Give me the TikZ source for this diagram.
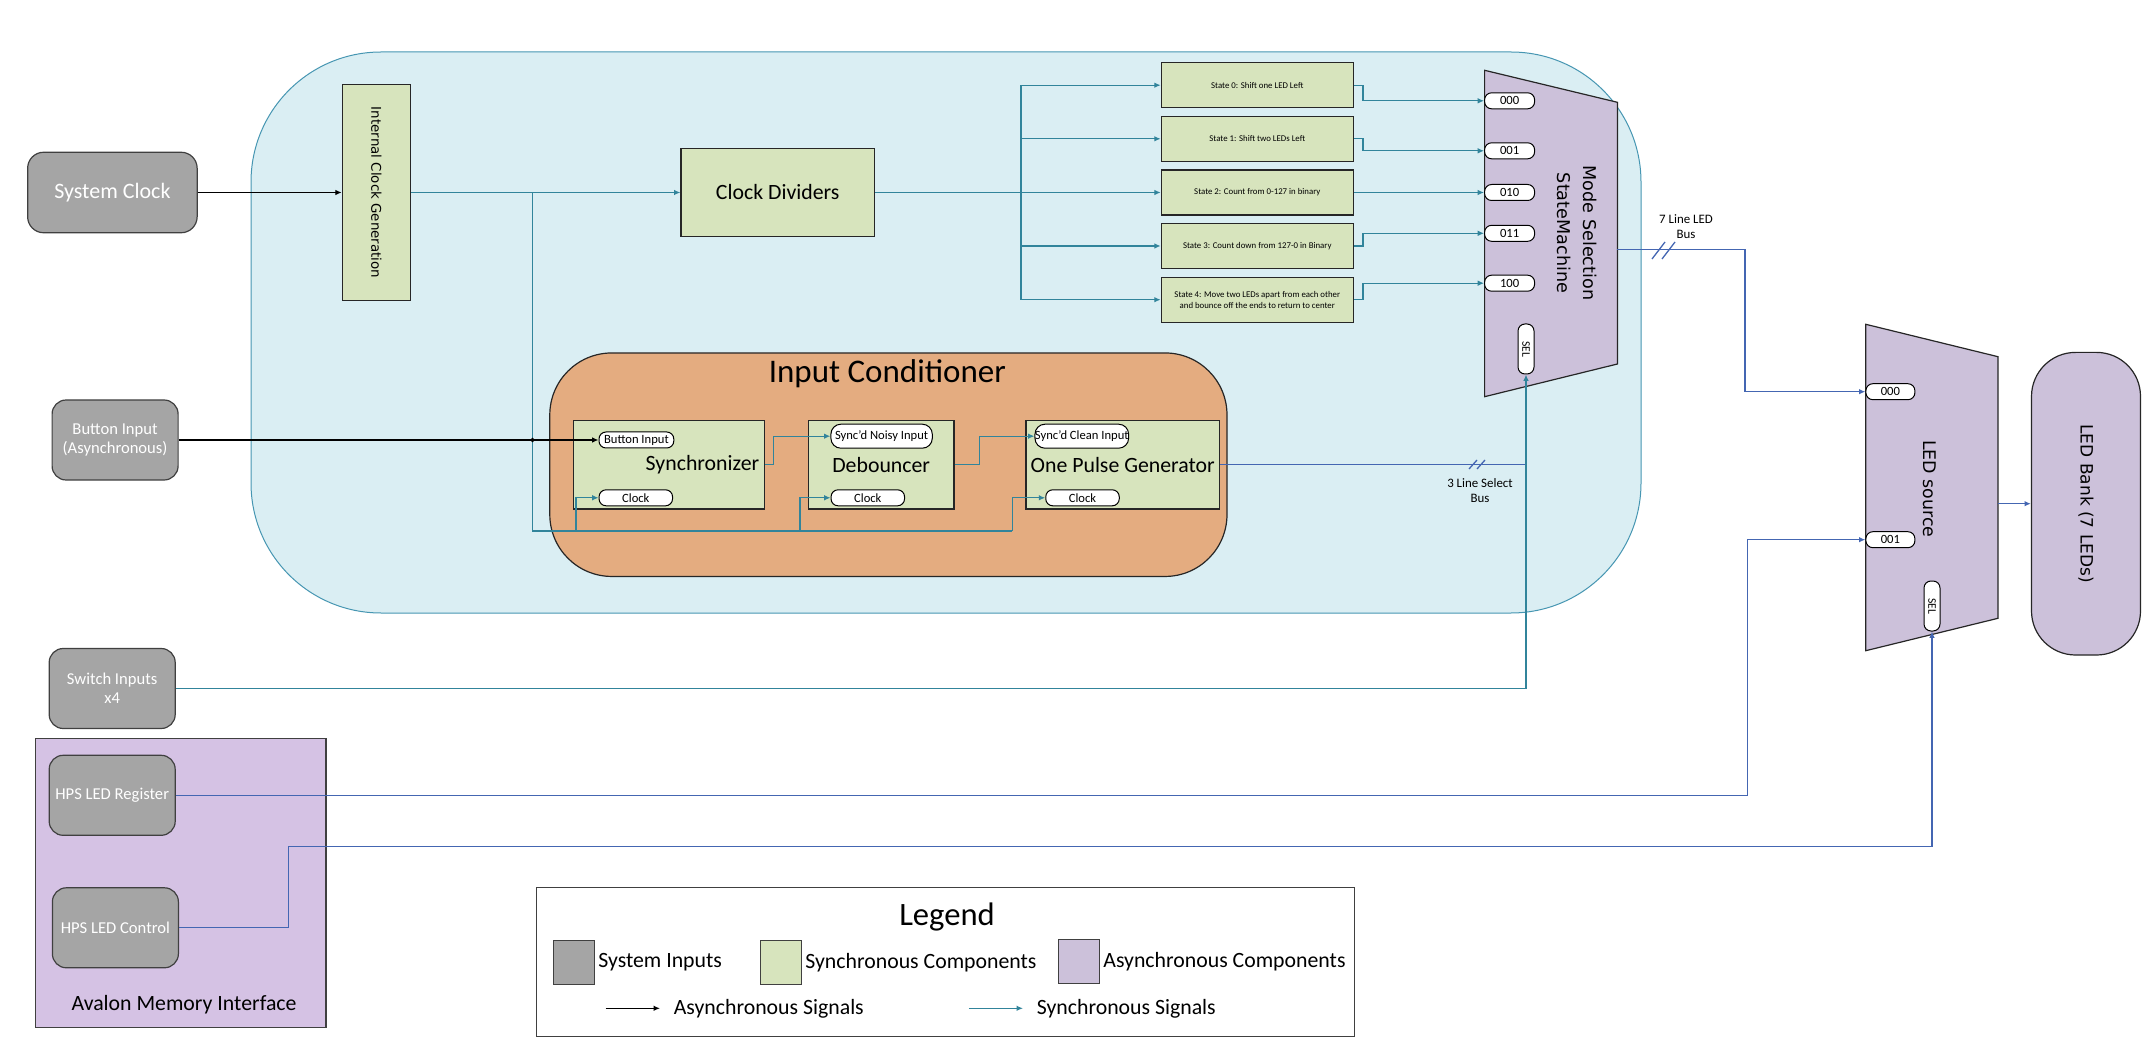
\documentclass[tikz,border=0pt]{standalone}
\usepackage{fontspec}
\usepackage{graphicx}
\setmainfont{Carlito}
\newfontfamily\verdfont{DejaVu Sans}
\usetikzlibrary{arrows.meta,positioning,backgrounds}

\definecolor{syncbg}{RGB}{218,238,243}
\definecolor{syncedge}{RGB}{70,150,178}
\definecolor{synclink}{RGB}{49,132,155}
\definecolor{buslink}{RGB}{68,102,178}
\definecolor{compgreen}{RGB}{215,228,189}
\definecolor{comppurple}{RGB}{204,193,218}
\definecolor{avalonpurple}{RGB}{213,194,228}
\definecolor{condorange}{RGB}{228,172,128}
\definecolor{inputgray}{RGB}{165,165,165}

\tikzset{
    sysin/.style={draw=black!75, fill=inputgray, rounded corners=7pt, text=white, inner sep=0pt, line width=0.6pt,
        minimum width=63pt, minimum height=40pt, align=center, font=\fontsize{8.3}{9.7}\selectfont},
    comp/.style={draw=black!85, fill=compgreen, inner sep=0pt, line width=0.6pt},
    bigtext/.style={font=\fontsize{10.9}{13}\selectfont},
    port/.style={draw=black, fill=white, rounded corners=3.5pt, inner sep=0pt, line width=0.5pt,
        minimum height=8pt, font=\fontsize{6.3}{7}\selectfont},
    statebox/.style={comp, minimum width=96pt, minimum height=22.5pt, align=center, font=\fontsize{4.4}{5.6}\selectfont},
    sync/.style={draw=synclink, line width=0.65pt},
    bus/.style={draw=buslink, line width=0.65pt},
    async/.style={draw=black, line width=0.65pt},
    sigtip/.style={-{Latex[length=3.2pt,width=2.8pt]}},
    buslabel/.style={align=center, font=\fontsize{6.45}{7.5}\selectfont}
}

\begin{document}
\begin{tikzpicture}[x=0.5pt,y=-0.5pt]
            \useasboundingbox (0,0) rectangle (2149,1064);

            \node[draw=syncedge, fill=syncbg, rounded corners=65pt, line width=0.5pt, inner sep=0pt,
                minimum width=695pt, minimum height=280.5pt] (fpga) at (946,332.5) {};
            \node[draw=black!85, fill=condorange, rounded corners=31pt, line width=0.6pt, inner sep=0pt,
                minimum width=338.6pt, minimum height=111.75pt] (incond) at (888.4,464.7) {};
            \node[font=\fontsize{16.5}{18}\selectfont] (incondlbl) at (887.4,373.3) {Input Conditioner};
            \node[draw=black!75, fill=avalonpurple, line width=0.6pt, inner sep=0pt,
                minimum width=145.1pt, minimum height=144.5pt] (avalon) at (180.8,882.8) {};
            \node[bigtext] (avalonlbl) at (184,1005) {Avalon Memory Interface};
            \node[draw=black!75, fill=white, line width=0.6pt, inner sep=0pt,
                minimum width=409.25pt, minimum height=74.7pt] (legend) at (945.5,962) {};

            \node[sysin, rounded corners=8pt, minimum width=84.75pt, minimum height=40.25pt,
                font=\fontsize{11}{13}\selectfont] (sysclk) at (112.4,192.5) {System Clock};
            \node[sysin] (btn) at (115.1,440) {Button Input\\(Asynchronous)};
            \node[sysin] (sw) at (112.2,688.5) {Switch Inputs\\x4};
            \node[sysin] (hreg) at (112.2,795.3) {HPS LED Register};
            \node[sysin] (hctl) at (115.4,927.8) {HPS LED Control};

            \node[comp, minimum width=34pt, minimum height=107.9pt, font=\verdfont\fontsize{6.7}{8}\selectfont]
                (icg) at (376.3,192.5) {\rotatebox{-90}{Internal Clock Generation}};
            \node[comp, bigtext, minimum width=96.7pt, minimum height=44.2pt] (cdiv) at (777.7,192.5) {Clock Dividers};

            \foreach \i/\y/\txt in {0/85.2/{State 0: Shift one LED Left},
                    1/138.8/{State 1: Shift two LEDs Left},
                    2/192.5/{State 2: Count from 0-127 in binary},
                    3/246/{State 3: Count down from 127-0 in Binary},
                    4/299.7/{State 4: Move two LEDs apart from each other\\and bounce off the ends to return to center}}
                \node[statebox] (s\i) at (1257.3,\y) {\txt};

            \filldraw[fill=comppurple, draw=black!85, line width=0.6pt]
                (1484.6,70.3) -- (1617.4,102.3) -- (1617.4,364) -- (1484.6,396.7) -- cycle;
            \node[rotate=-90, align=center, font=\verdfont\fontsize{8.8}{13}\selectfont] (modelbl) at (1577,233)
                {Mode Selection\\StateMachine};
            \foreach \b/\y in {000/100.8, 001/150.8, 010/192.5, 011/233.3, 100/283.2}
                \node[port, minimum width=25pt] (m\b) at (1509.6,\y) {\b};
            \node[port, minimum width=8pt, minimum height=25pt, rounded corners=3.5pt,
                font=\fontsize{5.8}{7}\selectfont] (msel) at (1526,349) {\rotatebox{-90}{SEL}};

            \filldraw[fill=comppurple, draw=black!85, line width=0.6pt]
                (1865.8,324.3) -- (1998,356.7) -- (1998,618.3) -- (1865.8,650.7) -- cycle;
            \node[rotate=-90, font=\verdfont\fontsize{8.7}{10}\selectfont] (ledlbl) at (1930,488.7) {LED source};
            \node[port, minimum width=24.5pt] (l000) at (1890.4,391.7) {000};
            \node[port, minimum width=24.5pt] (l001) at (1890.4,539.7) {001};
            \node[port, minimum width=8pt, minimum height=25pt, font=\fontsize{5.8}{7}\selectfont]
                (lsel) at (1932,606) {\rotatebox{-90}{SEL}};
            \node[draw=black!85, fill=comppurple, rounded corners=22pt, line width=0.6pt, inner sep=0pt,
                minimum width=54.5pt, minimum height=151.3pt, font=\verdfont\fontsize{8.5}{10}\selectfont]
                (bank) at (2086,503.7) {\rotatebox{-90}{LED Bank (7 LEDs)}};

            \node[comp, minimum width=95.3pt, minimum height=44.35pt] (synchr) at (669,464.7) {};
            \node[bigtext] (synchrlbl) at (702.5,465) {Synchronizer};
            \node[comp, bigtext, minimum width=72.8pt, minimum height=44.35pt] (deb) at (881.2,464.7) {Debouncer};
            \node[comp, bigtext, minimum width=96.7pt, minimum height=44.35pt] (opg) at (1122.7,464.7) {One Pulse Generator};

            \node[port, minimum width=37.4pt] (pbtn) at (636.4,440) {Button Input};
            \node[port, minimum width=50.7pt, minimum height=12pt, rounded corners=5pt] (pnoisy) at (881.6,436.2) {Sync'd Noisy Input};
            \node[port, minimum width=44.25pt, minimum height=12pt, rounded corners=5pt] (pclean) at (1081.8,436.2) {Sync'd Clean Input};
            \node[port, minimum width=36.75pt] (clk1) at (635.8,497.8) {Clock};
            \node[port, minimum width=36.75pt] (clk2) at (867.8,497.8) {Clock};
            \node[port, minimum width=36.75pt] (clk3) at (1082.5,497.8) {Clock};

            \coordinate (ctap) at (532.6,192.5);
            \coordinate (cbot) at (532.6,531);
            \coordinate (cbr1) at (576,531);
            \coordinate (cbr2) at (800,531);
            \coordinate (cbr3) at (1012.3,531);
            \coordinate (cfan) at (1021,192.5);
            \coordinate (modeout) at (1617.4,249.7);
            \coordinate (ledbus) at (1745,249.7);
            \coordinate (regturn) at (1747.8,795.3);
            \coordinate (ctlup) at (288.4,927.8);
            \coordinate (ctlrun) at (288.4,846.7);
            \coordinate (ledout) at (1998,503.7);

            \draw[async, sigtip] (sysclk.east) -- (icg.west);
            \draw[sync, sigtip] (icg.east) -- (cdiv.west);
            \draw[sync] (ctap) -- (cbot) -- (cbr3);
            \foreach \c/\p in {cbr1/clk1, cbr2/clk2, cbr3/clk3}
                \draw[sync, sigtip] (\c) |- (\p.west);

            \draw[async, sigtip] (btn.east) -- (pbtn.west);
            \filldraw[black] (ctap |- btn.east) circle (0.9pt);

            \draw[sync, sigtip] (synchr.east) -- ++(8.3,0) |- (pnoisy.west);
            \draw[sync, sigtip] (deb.east) -- ++(25,0) |- (pclean.west);

            \draw[bus] (opg.east) -- (opg.east -| msel.south);
            \draw[bus] (1469,469) -- (1477,460) (1477,469) -- (1485,460);
            \node[buslabel] (selbuslbl) at (1480,491) {3 Line Select\\Bus};
            \draw[sync, sigtip] (sw.east) -| (msel.south);

            \draw[sync] (cdiv.east) -- (cfan);
            \foreach \i in {0,...,4}
                \draw[sync, sigtip] (cfan) |- (s\i.west);
            \foreach \i/\b in {0/000, 1/001, 2/010, 3/011, 4/100}
                \draw[sync, sigtip] (s\i.east) -- ++(9.2,0) |- (m\b.west);

            \draw[bus, sigtip] (modeout) -- (ledbus) |- (l000.west);
            \draw[bus] (1652,259) -- (1665,242) (1662,259) -- (1675,242);
            \node[buslabel] (ledbuslbl) at (1686,227) {7 Line LED\\Bus};

            \draw[bus, sigtip] (hreg.east) -- (regturn) |- (l001.west);
            \draw[bus, sigtip] (hctl.east) -- (ctlup) -- (ctlrun) -| (lsel.south);
            \draw[bus, sigtip] (ledout) -- (bank.west);

            \node[font=\fontsize{16.3}{18}\selectfont] (legendlbl) at (947,916.7) {Legend};
            \node[draw=black!75, fill=inputgray, minimum width=20.35pt, minimum height=22pt, inner sep=0pt] (lgray) at (574,962) {};
            \node[bigtext, inner sep=0pt, right=1.6pt of lgray] (lgraytxt) {System Inputs};
            \node[draw=black!75, fill=compgreen, minimum width=20.65pt, minimum height=22pt, inner sep=0pt] (lgreen) at (780.7,962.8) {};
            \node[bigtext, inner sep=0pt, right=1.6pt of lgreen] (lgreentxt) {Synchronous Components};
            \node[draw=black!75, fill=comppurple, minimum width=20.6pt, minimum height=22pt, inner sep=0pt] (lpurple) at (1078.8,961.7) {};
            \node[bigtext, inner sep=0pt, right=1.6pt of lpurple] (lpurpletxt) {Asynchronous Components};

            \coordinate (lasync0) at (605.6,1008.3);
            \coordinate (lasync1) at (660,1008.3);
            \coordinate (lsync0) at (968.8,1008.3);
            \coordinate (lsync1) at (1023,1008.3);
            \draw[async, sigtip] (lasync0) -- (lasync1);
            \node[bigtext, inner sep=0pt, right=6.7pt of lasync1] (lasynctxt) {Asynchronous Signals};
            \draw[sync, sigtip] (lsync0) -- (lsync1);
            \node[bigtext, inner sep=0pt, right=6.7pt of lsync1] (lsynctxt) {Synchronous Signals};
        \end{tikzpicture}
\end{document}
